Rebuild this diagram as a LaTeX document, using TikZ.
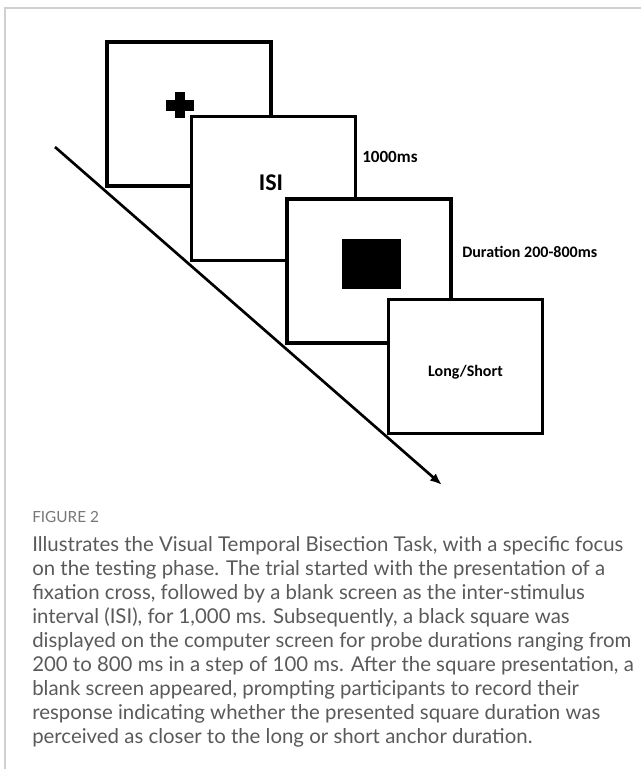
\documentclass[tikz,border=0pt]{standalone}
\usepackage{fontspec}
\setmainfont{Carlito}
\newfontfamily\capfont{Lato}
\usetikzlibrary{arrows.meta}
\definecolor{framegray}{HTML}{D0D0D0}
\definecolor{capgray}{HTML}{5A5A5A}
\definecolor{figgray}{HTML}{777777}
\tikzset{
  screen/.style={draw=black, line width=2.3pt, fill=white, inner sep=0pt},
  lbl/.style={font=\bfseries\fontsize{12}{14}\selectfont, inner sep=0pt},
  timeline/.style={line width=2pt, -{Latex[length=9pt,width=7pt]}},
}
\begin{document}
\begin{tikzpicture}[x=0.75pt,y=-0.75pt]
\useasboundingbox (0,0) rectangle (641,769);
\fill[white] (0,0) rectangle (641,769);
% card frame
\draw[framegray, line width=1.5pt] (5,769) -- (5,8) -- (641,8);
% screens
\node[screen, minimum width=123pt, minimum height=108pt] (b1) at (189,114) {};
\fill (175,92) rectangle (185,118);
\fill (166,100) rectangle (194,110.5);
\node[screen, minimum width=122.5pt, minimum height=107.5pt] (b2) at (273.5,188.5) {};
\node[lbl, font=\bfseries\fontsize{18}{20}\selectfont] (isi) at (271,183) {ISI};
\node[screen, minimum width=123pt, minimum height=108pt] (b3) at (369,271) {};
\node[fill=black, minimum width=44pt, minimum height=37.5pt, inner sep=0pt] (sq) at (371.5,264) {};
\node[screen, minimum width=115pt, minimum height=101pt] (b4) at (465.5,366.5) {};
\node[lbl] (ls) at (465.5,372) {Long/Short};
% labels
\node[lbl, anchor=west, font=\bfseries\fontsize{12.8}{14}\selectfont] (t1) at (362,157) {1000ms};
\node[lbl, anchor=west] (t2) at (462,252) {Duration 200-800ms};
% time arrow
\coordinate (as) at (55,147);
\coordinate (ae) at (442,485);
\draw[timeline] (as) -- (ae);
% caption
\node[anchor=west, inner sep=0pt, text=figgray, font=\capfont\fontsize{11.5}{13}\selectfont] (fig) at (32,517) {FIGURE 2};
\node[anchor=north west, inner sep=0pt, align=left, text=capgray,
      font=\capfont\fontsize{15.3}{18}\selectfont] (cap) at (32,536) {%
Illustrates the Visual Temporal Bisection Task, with a specific focus\\
on the testing phase. The trial started with the presentation of a\\
fixation cross, followed by a blank screen as the inter-stimulus\\
interval (ISI), for 1,000 ms. Subsequently, a black square was\\
displayed on the computer screen for probe durations ranging from\\
200 to 800 ms in a step of 100 ms. After the square presentation, a\\
blank screen appeared, prompting participants to record their\\
response indicating whether the presented square duration was\\
perceived as closer to the long or short anchor duration.};
\end{tikzpicture}
\end{document}
